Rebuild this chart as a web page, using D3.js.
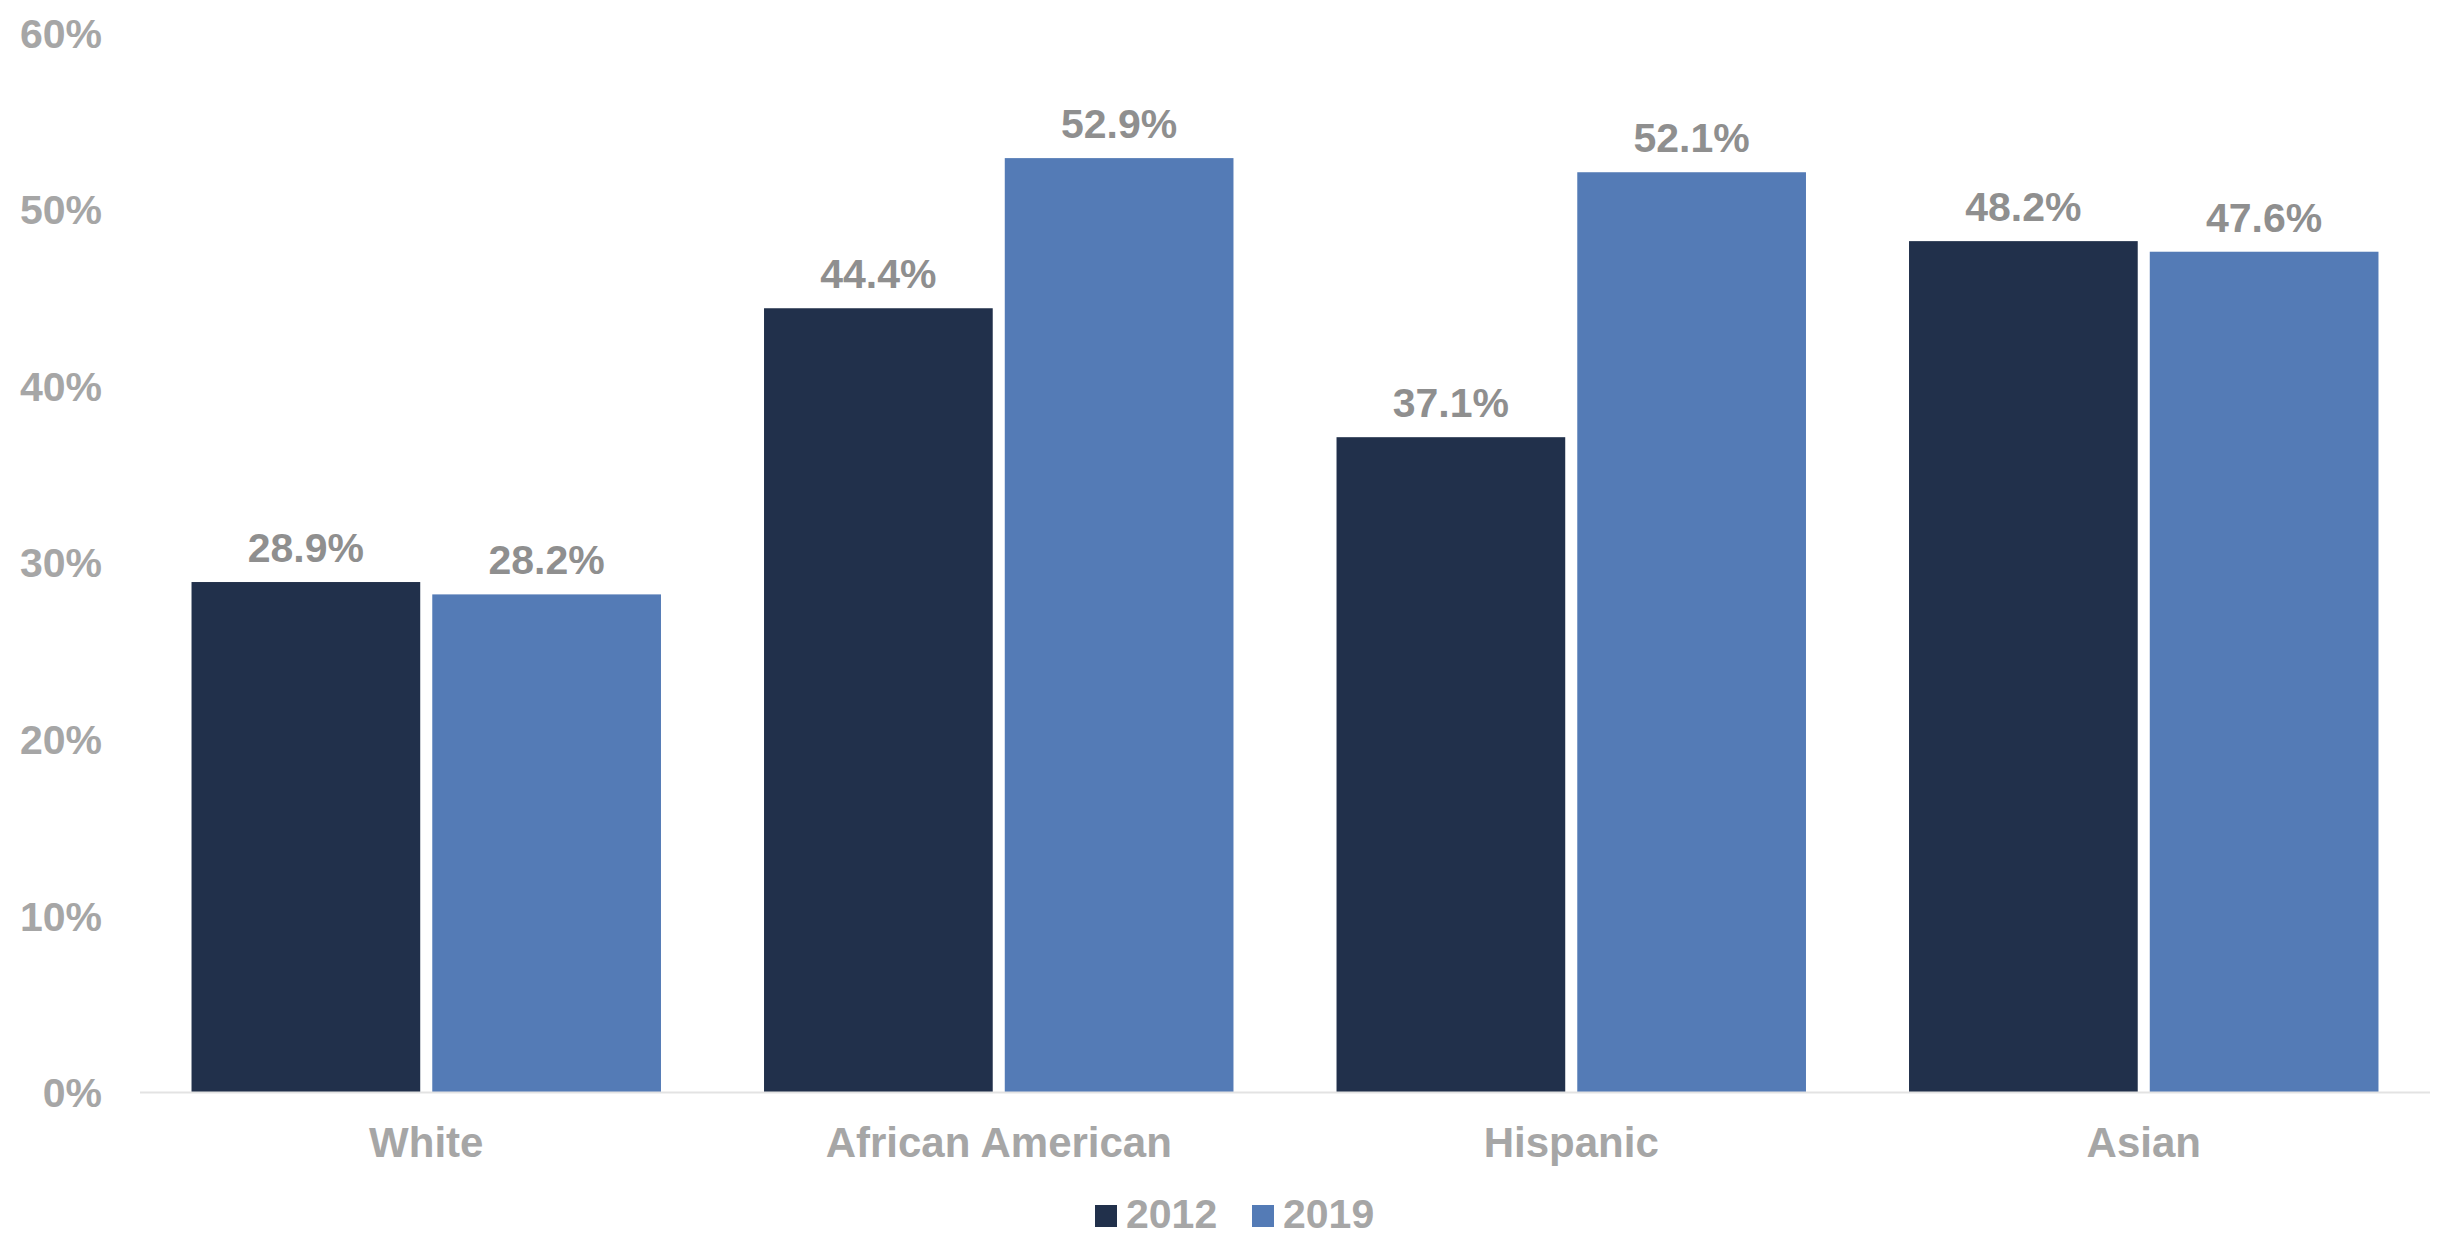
<!DOCTYPE html>
<html>
<head>
<meta charset="utf-8">
<script src="https://cdn.jsdelivr.net/npm/d3@7/dist/d3.min.js"></script>
<style>
  html, body { margin: 0; padding: 0; background: #ffffff; }
  svg { display: block; font-family: "Liberation Sans", Arial, sans-serif; font-weight: bold; }
</style>
</head>
<body>
<svg id="chart" width="2437" height="1234"></svg>
<script>
// Share by group, two survey years
const categories = ["White", "African American", "Hispanic", "Asian"];
const years = ["2012", "2019"];
const values2012 = [28.9, 44.4, 37.1, 48.2];
const values2019 = [28.2, 52.9, 52.1, 47.6];
const yTicks = [0, 10, 20, 30, 40, 50, 60];
const colors = ["#21304b", "#547bb6"];

const svg = d3.select("#chart");
const left = 140, right = 2430, baseY = 1092.5, topY = 32.7;

const x0 = d3.scaleBand().domain(categories).range([left, right])
  .paddingInner(0.18).paddingOuter(0.09);
const x1 = d3.scaleBand().domain(years).range([0, x0.bandwidth()])
  .paddingInner(0.05).paddingOuter(0);
const y = d3.scaleLinear().domain([0, 60]).range([baseY, topY]);
const color = d3.scaleOrdinal().domain(years).range(colors);

const rows = categories.map((c, i) => ({
  category: c,
  items: [{ year: "2012", value: values2012[i] }, { year: "2019", value: values2019[i] }]
}));

// y axis labels (no gridlines)
const yAxis = d3.axisLeft(y).tickValues(yTicks).tickFormat(d => d + "%").tickSize(0).tickPadding(0);
const gy = svg.append("g").attr("transform", `translate(102,0)`).call(yAxis);
gy.select(".domain").remove();
gy.selectAll("text")
  .attr("x", 0).attr("dy", "0.35em")
  .style("font-size", "41px").style("font-family", "Liberation Sans, Arial, sans-serif")
  .style("font-weight", "bold").attr("fill", "#a6a6a6");

// bars
const groups = svg.append("g").selectAll("g").data(rows).join("g")
  .attr("transform", d => `translate(${x0(d.category)},0)`);

groups.selectAll("rect").data(d => d.items).join("rect")
  .attr("x", d => x1(d.year))
  .attr("width", x1.bandwidth())
  .attr("y", d => y(d.value))
  .attr("height", d => y(0) - y(d.value))
  .attr("fill", d => color(d.year));

groups.selectAll("text.val").data(d => d.items).join("text")
  .attr("class", "val")
  .attr("x", d => x1(d.year) + x1.bandwidth() / 2)
  .attr("y", d => y(d.value) - 20)
  .attr("text-anchor", "middle")
  .style("font-size", "41px")
  .attr("fill", "#8f8f8f")
  .text(d => d.value.toFixed(1) + "%");

// x axis baseline and category labels
const xAxis = d3.axisBottom(x0).tickSize(0).tickPadding(0);
const gx = svg.append("g").attr("transform", `translate(0,${baseY})`).call(xAxis);
gx.select(".domain").attr("stroke", "#e3e3e3").attr("stroke-width", 2)
  .attr("d", `M${left},0H${right}`);
gx.selectAll("text")
  .attr("y", 64.5).attr("dy", 0)
  .style("font-size", "42px").style("font-family", "Liberation Sans, Arial, sans-serif")
  .style("font-weight", "bold").attr("fill", "#a6a6a6");

// legend
const legendItems = [{ year: "2012", x: 1095 }, { year: "2019", x: 1252 }];
const lg = svg.append("g").selectAll("g").data(legendItems).join("g")
  .attr("transform", d => `translate(${d.x},0)`);
lg.append("rect").attr("x", 0).attr("y", 1205).attr("width", 22).attr("height", 22)
  .attr("fill", d => color(d.year));
lg.append("text").attr("x", 31).attr("y", 1228)
  .style("font-size", "41px").attr("fill", "#a6a6a6")
  .text(d => d.year);
</script>
</body>
</html>
